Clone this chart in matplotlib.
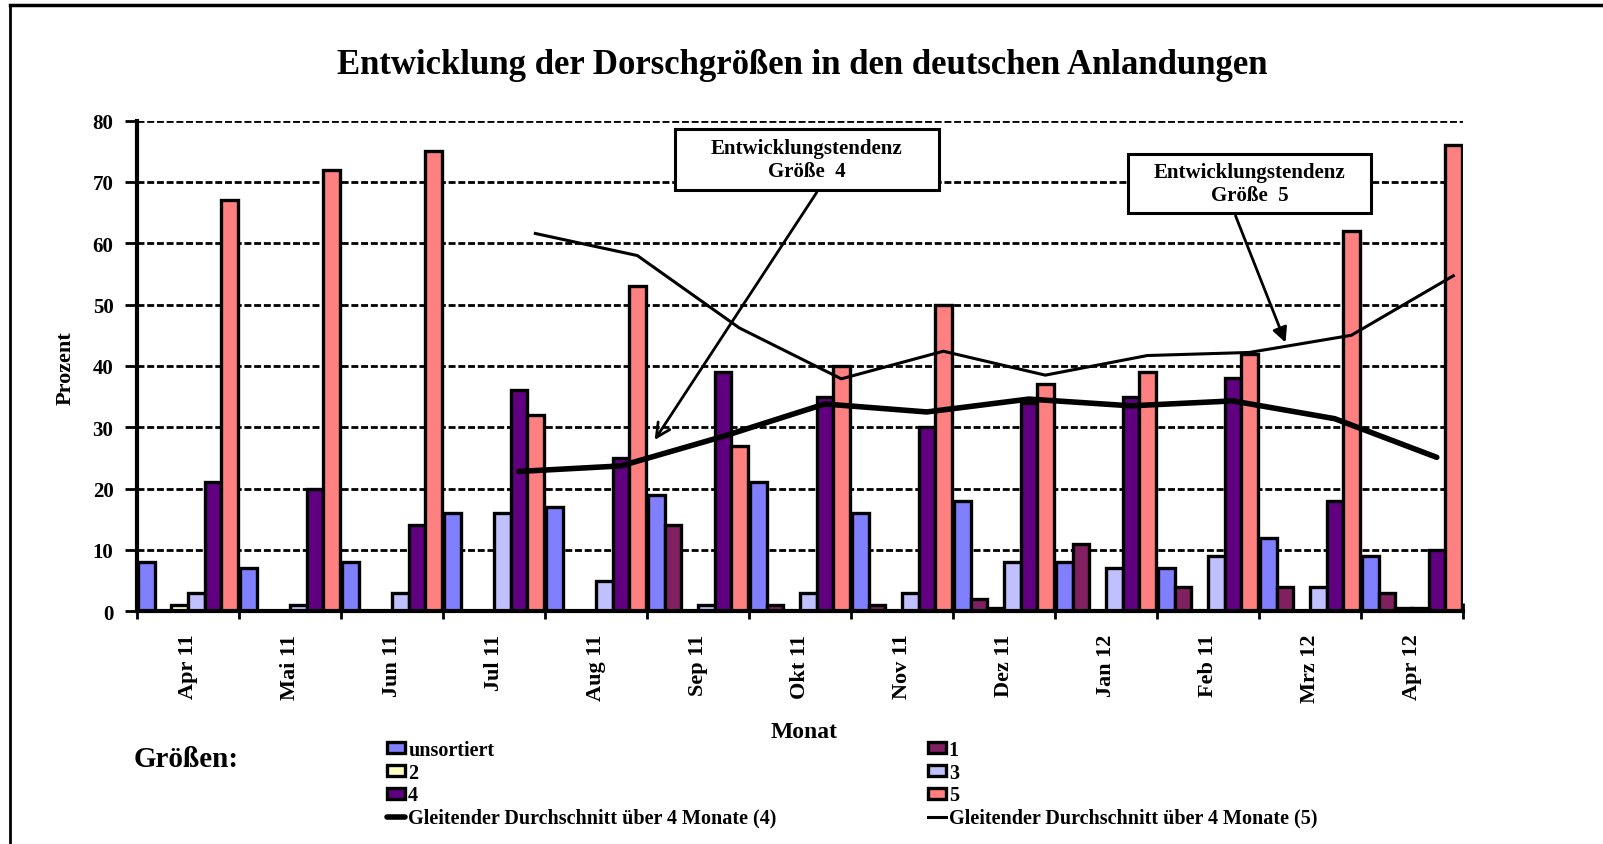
import numpy as np
import matplotlib
matplotlib.use("Agg")
import matplotlib.pyplot as plt
from matplotlib.lines import Line2D
from matplotlib.patches import Rectangle

plt.rcParams['font.family'] = ['Liberation Serif', 'DejaVu Serif']
plt.rcParams['font.weight'] = 'bold'

# ---------- data ----------
months = ['Apr 11', 'Mai 11', 'Jun 11', 'Jul 11', 'Aug 11', 'Sep 11', 'Okt 11',
          'Nov 11', 'Dez 11', 'Jan 12', 'Feb 11', 'Mrz 12', 'Apr 12']

unsortiert = [8, 7, 8, 16, 17, 19, 21, 16, 18, 8, 7, 12, 9]
g1 = [0, 0, 0, 0, 0, 14, 1, 1, 2, 11, 4, 4, 3]
g2 = [1, 0, 0, 0, 0, 0, 0, 0, 0.5, 0, 0, 0, 0.5]
g3 = [3, 1, 3, 16, 5, 1, 3, 3, 8, 7, 9, 4, 0.5]
g4 = [21, 20, 14, 36, 25, 39, 35, 30, 34, 35, 38, 18, 10]
g5 = [67, 72, 75, 32, 53, 27, 40, 50, 37, 39, 42, 62, 76]

# moving averages, starting at Jul 11 (index 3)
ma_start = 3
ma4 = [22.8, 23.7, 28.5, 33.8, 32.5, 34.6, 33.5, 34.3, 31.4, 25.1]
ma5 = [61.6, 58.0, 46.2, 37.9, 42.4, 38.5, 41.7, 42.2, 45.0, 54.7]

series_names = ['unsortiert', '1', '2', '3', '4', '5']
series_vals = [unsortiert, g1, g2, g3, g4, g5]
colors = ['#8080FF', '#802060', '#FFFFC0', '#C0C0FF', '#600080', '#FF8080']

# ---------- figure ----------
W, H = 1603, 845
fig = plt.figure(figsize=(W / 100, H / 100), dpi=100)
ax = fig.add_axes([137 / W, 1 - 612.3 / H, (1463 - 137) / W, (612.3 - 121.6) / H])

n = len(months)
idx = np.arange(n)
bw = 0.162
offsets = [-0.486 + (k + 0.5) * bw for k in range(6)]

handles = {}
for k, (name, vals) in enumerate(zip(series_names, series_vals)):
    b = ax.bar(idx + offsets[k], vals, bw, color=colors[k], edgecolor='black',
               linewidth=2.4, zorder=3, label=name)
    handles[name] = b

xm = np.arange(ma_start, n)
l4, = ax.plot(xm + offsets[4], ma4, color='black', lw=4, zorder=5,
              solid_capstyle='round')
l5, = ax.plot(xm + offsets[5], ma5, color='black', lw=2.2, zorder=5)

ax.set_xlim(-0.5, n - 0.5)
ax.set_ylim(0, 80)
ax.set_yticks(range(0, 81, 10))
ax.yaxis.grid(True, color='black', linestyle=(0, (2.5, 1)), linewidth=2)
ax.set_axisbelow(True)

ax.set_xticks(np.arange(n + 1) - 0.5)
ax.set_xticklabels([])
ax.set_xticks(idx, minor=True)
ax.set_xticklabels(months, minor=True, rotation=90, fontsize=16, fontweight='bold')
ax.tick_params(axis='x', which='major', direction='inout', length=12, width=2)
ax.tick_params(axis='x', which='minor', length=0, pad=16)
ax.tick_params(axis='y', direction='out', length=9, width=2, pad=8, labelsize=15)
for lab in ax.get_yticklabels():
    lab.set_fontweight('bold')

for s in ['top', 'right']:
    ax.spines[s].set_visible(False)
for s in ['left', 'bottom']:
    ax.spines[s].set_linewidth(3)
    ax.spines[s].set_zorder(6)

# annotation boxes
ax.add_patch(Rectangle((4.77, 68.7), 2.59, 9.9, fc='white', ec='black', lw=2.2, zorder=7))
ax.text(6.065, 73.65, 'Entwicklungstendenz\nGröße  4', ha='center', va='center',
        fontsize=15, fontweight='bold', zorder=8, linespacing=1.25)
ax.annotate('', xy=(4.56, 27.55), xytext=(6.18, 68.7), zorder=8,
            arrowprops=dict(arrowstyle='->', color='black', lw=2, mutation_scale=25))

ax.add_patch(Rectangle((9.22, 64.9), 2.38, 9.7, fc='white', ec='black', lw=2.2, zorder=7))
ax.text(10.41, 69.75, 'Entwicklungstendenz\nGröße  5', ha='center', va='center',
        fontsize=15, fontweight='bold', zorder=8, linespacing=1.25)
ax.annotate('', xy=(10.77, 43.4), xytext=(10.26, 64.9), zorder=8,
            arrowprops=dict(arrowstyle='-|>', color='black', lw=2, mutation_scale=22))

# texts
fig.text(802 / W, 1 - 65 / H, 'Entwicklung der Dorschgrößen in den deutschen Anlandungen',
         ha='center', va='center', fontsize=25, fontweight='bold')
fig.text(66 / W, 1 - 368 / H, 'Prozent', rotation=90, ha='center', va='center',
         fontsize=16, fontweight='bold')
fig.text(804 / W, 1 - 733 / H, 'Monat', ha='center', va='center', fontsize=17,
         fontweight='bold')
fig.text(134 / W, 1 - 760 / H, 'Größen:', ha='left', va='center', fontsize=21,
         fontweight='bold')

# legend: column-wise order to mimic row-wise layout
lh = [handles['unsortiert'], handles['2'], handles['4'], l4,
      handles['1'], handles['3'], handles['5'], l5]
ll = ['unsortiert', '2', '4', 'Gleitender Durchschnitt über 4 Monate (4)',
      '1', '3', '5', 'Gleitender Durchschnitt über 4 Monate (5)']
fig.legend(lh, ll, loc='upper left', bbox_to_anchor=(377 / W, 1 - 731 / H), ncol=2,
           frameon=False, prop={'weight': 'bold', 'size': 14.5},
           handlelength=0.9, handleheight=0.45, handletextpad=0.15,
           columnspacing=7.5, labelspacing=0.13, borderpad=0)

# page frame
fig.add_artist(Line2D([10 / W, 10 / W], [0, 1 - 6 / H], transform=fig.transFigure,
                      color='black', lw=2))
fig.add_artist(Line2D([10 / W, 1], [1 - 6 / H, 1 - 6 / H], transform=fig.transFigure,
                      color='black', lw=2.5))
fig.text(1536 / W, 1 - 2 / H, 'Grafik', ha='left', va='bottom', fontsize=14,
         family='Liberation Sans', fontweight='normal')

fig.savefig('out.png', dpi=100)
